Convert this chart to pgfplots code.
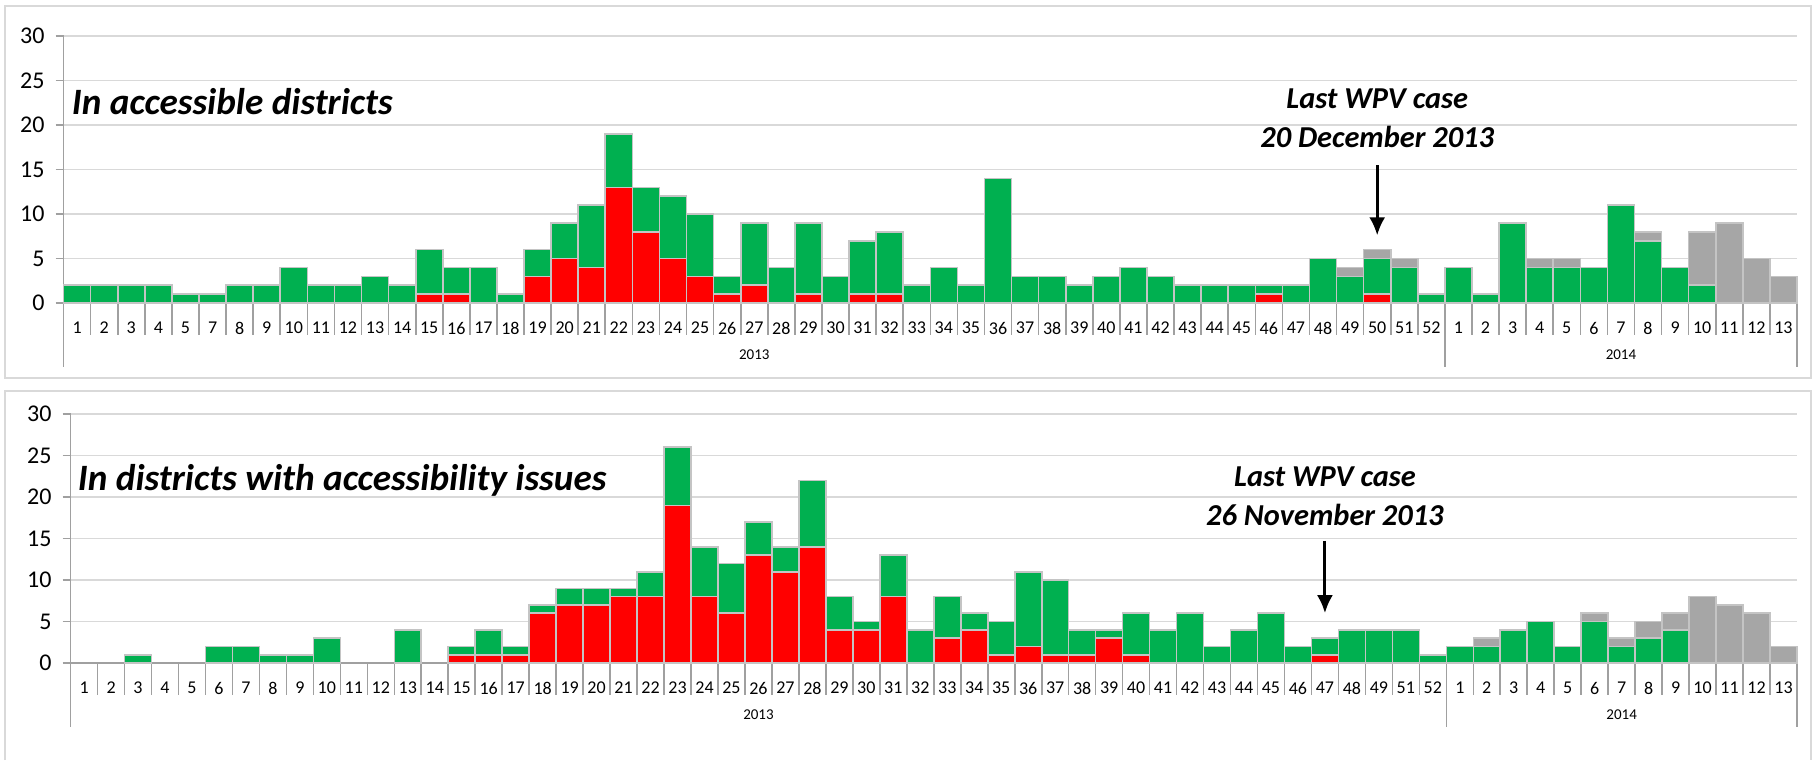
\documentclass[border=0pt]{standalone}
\usepackage{fontspec}
\setmainfont{Carlito}
\usepackage{pgfplots}
\usepackage{pgfplotstable}
\pgfplotsset{compat=1.18}
\usetikzlibrary{arrows.meta}
\definecolor{cgreen}{HTML}{00B050}
\definecolor{cred}{HTML}{FF0000}
\definecolor{cgray}{HTML}{A6A6A6}
\definecolor{cedge}{HTML}{C4C4C4}
\definecolor{cgrid}{HTML}{D9D9D9}
\definecolor{caxis}{HTML}{A0A0A0}
\definecolor{cbox}{HTML}{D9D9D9}

\pgfplotstableread{
x r g y
0 0 2 0
1 0 2 0
2 0 2 0
3 0 2 0
4 0 1 0
5 0 1 0
6 0 2 0
7 0 2 0
8 0 4 0
9 0 2 0
10 0 2 0
11 0 3 0
12 0 2 0
13 1 5 0
14 1 3 0
15 0 4 0
16 0 1 0
17 3 3 0
18 5 4 0
19 4 7 0
20 13 6 0
21 8 5 0
22 5 7 0
23 3 7 0
24 1 2 0
25 2 7 0
26 0 4 0
27 1 8 0
28 0 3 0
29 1 6 0
30 1 7 0
31 0 2 0
32 0 4 0
33 0 2 0
34 0 14 0
35 0 3 0
36 0 3 0
37 0 2 0
38 0 3 0
39 0 4 0
40 0 3 0
41 0 2 0
42 0 2 0
43 0 2 0
44 1 1 0
45 0 2 0
46 0 5 0
47 0 3 1
48 1 4 1
49 0 4 1
50 0 1 0
51 0 4 0
52 0 1 0
53 0 9 0
54 0 4 1
55 0 4 1
56 0 4 0
57 0 11 0
58 0 7 1
59 0 4 0
60 0 2 6
61 0 0 9
62 0 0 5
63 0 0 3
}\toptab

\pgfplotstableread{
x r g y
0 0 0 0
1 0 0 0
2 0 1 0
3 0 0 0
4 0 0 0
5 0 2 0
6 0 2 0
7 0 1 0
8 0 1 0
9 0 3 0
10 0 0 0
11 0 0 0
12 0 4 0
13 0 0 0
14 1 1 0
15 1 3 0
16 1 1 0
17 6 1 0
18 7 2 0
19 7 2 0
20 8 1 0
21 8 3 0
22 19 7 0
23 8 6 0
24 6 6 0
25 13 4 0
26 11 3 0
27 14 8 0
28 4 4 0
29 4 1 0
30 8 5 0
31 0 4 0
32 3 5 0
33 4 2 0
34 1 4 0
35 2 9 0
36 1 9 0
37 1 3 0
38 3 1 0
39 1 5 0
40 0 4 0
41 0 6 0
42 0 2 0
43 0 4 0
44 0 6 0
45 0 2 0
46 1 2 0
47 0 4 0
48 0 4 0
49 0 4 0
50 0 1 0
51 0 2 0
52 0 2 1
53 0 4 0
54 0 5 0
55 0 2 0
56 0 5 1
57 0 2 1
58 0 3 2
59 0 4 2
60 0 0 8
61 0 0 7
62 0 0 6
63 0 0 2
}\bottab

\pgfplotsset{panel/.style={
  scale only axis, clip=false,
  ybar stacked, bar width=1,
  xmin=-0.5, xmax=63.5, ymin=0, ymax=30,
  ytick={0,5,...,30},
  xtick={0,...,63},
  xtick style={draw=none},
  ytick style={draw=caxis, line width=0.8pt},
  tick align=outside, major tick length=4pt,
  axis x line*=bottom, axis y line*=left,
  axis line style={draw=caxis, line width=0.8pt},
  ymajorgrids, grid style={draw=cgrid, line width=0.9pt},
  /pgf/number format/assume math mode=true,
  yticklabel style={font=\fontsize{12}{12}\selectfont, xshift=-2pt},
  xticklabel style={font=\fontsize{9}{9}\selectfont, yshift=-2pt},
  every axis plot/.append style={draw=cedge, line width=0.8pt},
}}

\begin{document}
\begin{tikzpicture}
\useasboundingbox (0,0) rectangle (907pt,380pt);
\draw[cbox, line width=1pt] (2.5pt,191pt) rectangle (905.5pt,377.1pt);
\draw[cbox, line width=1pt] (2.5pt,0pt) -- (2.5pt,184.5pt) -- (905.5pt,184.5pt) -- (905.5pt,0pt);

% ---------------- top panel
\begin{axis}[panel,
  at={(31.8pt,228.45pt)}, anchor=south west,
  width=866.7pt, height=133.6pt,
  xticklabels={1,2,3,4,5,7,8,9,10,11,12,13,14,15,16,17,18,19,20,21,22,23,24,25,26,27,28,29,30,31,32,33,34,35,36,37,38,39,40,41,42,43,44,45,46,47,48,49,50,51,52,1,2,3,4,5,6,7,8,9,10,11,12,13},
]
\addplot[fill=cred] table[x=x,y=r]{\toptab};
\addplot[fill=cgreen] table[x=x,y=g]{\toptab};
\addplot[fill=cgray] table[x=x,y=y]{\toptab};
\pgfplotsinvokeforeach{0.5,1.5,...,62.5}{\draw[caxis,line width=0.8pt] (axis cs:#1,0) -- ++(0pt,-16pt);}
\draw[caxis,line width=0.8pt] (axis cs:-0.5,0) -- ++(0pt,-32pt);
\draw[caxis,line width=0.8pt] (axis cs:50.5,0) -- ++(0pt,-32pt);
\draw[caxis,line width=0.8pt] (axis cs:63.5,0) -- ++(0pt,-32pt);
\node[font=\fontsize{7.5}{7.5}\selectfont] at (axis cs:25,0) [yshift=-26pt] {2013};
\node[font=\fontsize{7.5}{7.5}\selectfont] at (axis cs:57,0) [yshift=-26pt] {2014};
\node[anchor=west, inner sep=0pt, font=\fontsize{18.6}{18.6}\bfseries\itshape\selectfont] at (axis cs:-0.5,22.6) [xshift=4pt] {In accessible districts};
\node[font=\fontsize{15.2}{15.2}\bfseries\itshape\selectfont] at (axis cs:48,22.9) {Last WPV case};
\node[font=\fontsize{15.2}{15.2}\bfseries\itshape\selectfont] at (axis cs:48,18.6) {20 December 2013};
\draw[-{Latex[length=9pt,width=8pt]}, line width=1.5pt] (axis cs:48,15.5) -- (axis cs:48,7.6);
\end{axis}

% ---------------- bottom panel
\begin{axis}[panel,
  at={(35.3pt,48.5pt)}, anchor=south west,
  width=863.2pt, height=124.5pt,
  xticklabels={1,2,3,4,5,6,7,8,9,10,11,12,13,14,15,16,17,18,19,20,21,22,23,24,25,26,27,28,29,30,31,32,33,34,35,36,37,38,39,40,41,42,43,44,45,46,47,48,49,51,52,1,2,3,4,5,6,7,8,9,10,11,12,13},
]
\addplot[fill=cred] table[x=x,y=r]{\bottab};
\addplot[fill=cgreen] table[x=x,y=g]{\bottab};
\addplot[fill=cgray] table[x=x,y=y]{\bottab};
\pgfplotsinvokeforeach{0.5,1.5,...,62.5}{\draw[caxis,line width=0.8pt] (axis cs:#1,0) -- ++(0pt,-16pt);}
\draw[caxis,line width=0.8pt] (axis cs:-0.5,0) -- ++(0pt,-32pt);
\draw[caxis,line width=0.8pt] (axis cs:50.5,0) -- ++(0pt,-32pt);
\draw[caxis,line width=0.8pt] (axis cs:63.5,0) -- ++(0pt,-32pt);
\node[font=\fontsize{7.5}{7.5}\selectfont] at (axis cs:25,0) [yshift=-26pt] {2013};
\node[font=\fontsize{7.5}{7.5}\selectfont] at (axis cs:57,0) [yshift=-26pt] {2014};
\node[anchor=west, inner sep=0pt, font=\fontsize{18.6}{18.6}\bfseries\itshape\selectfont] at (axis cs:-0.5,22.0) [xshift=3.5pt] {In districts with accessibility issues};
\node[font=\fontsize{15.2}{15.2}\bfseries\itshape\selectfont] at (axis cs:46,22.4) {Last WPV case};
\node[font=\fontsize{15.2}{15.2}\bfseries\itshape\selectfont] at (axis cs:46,17.8) {26 November 2013};
\draw[-{Latex[length=9pt,width=8pt]}, line width=1.5pt] (axis cs:46,14.7) -- (axis cs:46,6.0);
\end{axis}
\end{tikzpicture}
\end{document}
